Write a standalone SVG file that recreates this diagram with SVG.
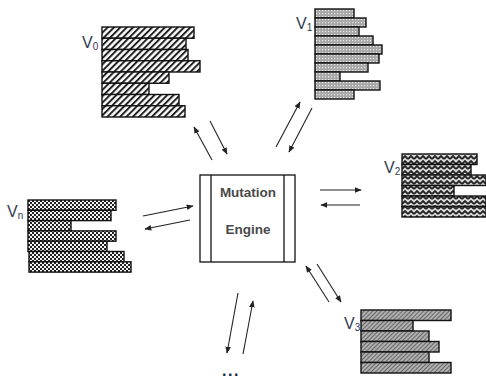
<svg xmlns="http://www.w3.org/2000/svg" width="486" height="378" viewBox="0 0 486 378">
<style>
.bar{stroke:#111;stroke-width:1.4}
.lbl{font-family:"Liberation Sans",Arial,sans-serif;font-size:16px;fill:#2f3a4f}
.sub{font-size:10px}
.eng{font-family:"Liberation Sans",Arial,sans-serif;font-size:13.5px;font-weight:bold;fill:#4a4a4a;text-anchor:middle}
.arr{stroke:#222;stroke-width:1.1;fill:none;marker-end:url(#ah)}
</style>
<defs>
<marker id="ah" viewBox="0 0 10 10" refX="9" refY="5" markerWidth="7" markerHeight="7" markerUnits="userSpaceOnUse" orient="auto">
<path d="M0,1 L10,5 L0,9 Z" fill="#222"/>
</marker>
<pattern id="hatch" patternUnits="userSpaceOnUse" width="4.5" height="4.5" patternTransform="rotate(45)">
<rect width="4.5" height="4.5" fill="#fff"/>
<rect width="2" height="4.5" fill="#222"/>
</pattern>
<pattern id="dots" patternUnits="userSpaceOnUse" width="3" height="3">
<rect width="3" height="3" fill="#a8a8a8"/>
<rect x="1" y="1" width="1.2" height="1.2" fill="#e8e8e8"/>
</pattern>
<pattern id="zig" patternUnits="userSpaceOnUse" width="6" height="5">
<rect width="6" height="5" fill="#d8d8d8"/>
<polyline points="0,4 3,1 6,4" stroke="#222" stroke-width="1.8" fill="none"/>
</pattern>
<pattern id="check" patternUnits="userSpaceOnUse" width="4" height="4">
<rect width="4" height="4" fill="#f4f4f4"/>
<rect width="2" height="2" fill="#222"/>
<rect x="2" y="2" width="2" height="2" fill="#222"/>
</pattern>
<pattern id="ghatch" patternUnits="userSpaceOnUse" width="3" height="3" patternTransform="rotate(45)">
<rect width="3" height="3" fill="#b0b0b0"/>
<rect width="1" height="3" fill="#666"/>
</pattern>
</defs>

<g id="engine">
<rect x="200" y="175" width="95" height="87" fill="#fff" stroke="#111" stroke-width="1.3"/>
<line x1="211" y1="175" x2="211" y2="262" stroke="#111" stroke-width="1.3"/>
<line x1="284" y1="175" x2="284" y2="262" stroke="#111" stroke-width="1.3"/>
<text class="eng" x="248" y="197">Mutation</text>
<text class="eng" x="248" y="234">Engine</text>
</g>

<g id="v0" fill="url(#hatch)">
<rect class="bar" x="102" y="27" width="92" height="11.25"/>
<rect class="bar" x="102" y="38.25" width="84" height="11.25"/>
<rect class="bar" x="102" y="49.5" width="86" height="11.25"/>
<rect class="bar" x="102" y="60.75" width="98" height="11.25"/>
<rect class="bar" x="102" y="72" width="67" height="11.25"/>
<rect class="bar" x="102" y="83.25" width="47" height="11.25"/>
<rect class="bar" x="102" y="94.5" width="77" height="11.25"/>
<rect class="bar" x="102" y="105.75" width="83" height="11.25"/>
<text class="lbl" x="82" y="48">V<tspan class="sub" dy="2" fill="#4a2a5a">0</tspan></text>
</g>

<g id="v1" fill="url(#dots)">
<rect class="bar" x="315" y="9" width="39" height="9"/>
<rect class="bar" x="315" y="18" width="51" height="9"/>
<rect class="bar" x="315" y="27" width="44" height="9"/>
<rect class="bar" x="315" y="36" width="58" height="9"/>
<rect class="bar" x="315" y="45" width="67" height="9"/>
<rect class="bar" x="315" y="54" width="64" height="9"/>
<rect class="bar" x="315" y="63" width="53" height="9"/>
<rect class="bar" x="315" y="72" width="25" height="9"/>
<rect class="bar" x="315" y="81" width="65" height="9"/>
<rect class="bar" x="315" y="90" width="39" height="9"/>
<text class="lbl" x="296" y="29">V<tspan class="sub" dy="2">1</tspan></text>
</g>

<g id="v2" fill="url(#zig)">
<rect class="bar" x="402" y="154" width="75" height="10.5"/>
<rect class="bar" x="402" y="164.5" width="69" height="10.5"/>
<rect class="bar" x="402" y="175" width="84" height="10.5"/>
<rect class="bar" x="402" y="185.5" width="52" height="10.5"/>
<rect class="bar" x="402" y="196" width="84" height="10.5"/>
<rect class="bar" x="402" y="206.5" width="84" height="10.5"/>
<text class="lbl" x="384" y="173">V<tspan class="sub" dy="2">2</tspan></text>
</g>

<g id="vn" fill="url(#check)">
<rect class="bar" x="28" y="200" width="88" height="10.3"/>
<rect class="bar" x="28" y="210.3" width="83" height="10.3"/>
<rect class="bar" x="28" y="220.6" width="43" height="10.3"/>
<rect class="bar" x="28" y="230.9" width="88" height="10.3"/>
<rect class="bar" x="28" y="241.2" width="79" height="10.3"/>
<rect class="bar" x="29" y="251.5" width="95" height="10.3"/>
<rect class="bar" x="29" y="261.8" width="102" height="10.3"/>
<text class="lbl" x="7" y="217">V<tspan class="sub" dy="2">n</tspan></text>
</g>

<g id="v3" fill="url(#ghatch)">
<rect class="bar" x="361" y="310" width="90" height="10.5"/>
<rect class="bar" x="361" y="320.5" width="52" height="10.5"/>
<rect class="bar" x="361" y="331" width="68" height="10.5"/>
<rect class="bar" x="361" y="341.5" width="78" height="10.5"/>
<rect class="bar" x="361" y="352" width="68" height="10.5"/>
<rect class="bar" x="361" y="362.5" width="90" height="10.5"/>
<text class="lbl" x="344" y="329">V<tspan class="sub" dy="2">3</tspan></text>
</g>

<g id="connectors">
<line class="arr" x1="212" y1="160" x2="194" y2="127"/>
<line class="arr" x1="210" y1="121" x2="227" y2="154"/>
<line class="arr" x1="276" y1="147" x2="300" y2="102"/>
<line class="arr" x1="312" y1="108" x2="289" y2="152"/>
<line class="arr" x1="320" y1="190" x2="361" y2="190"/>
<line class="arr" x1="360" y1="205" x2="321" y2="205"/>
<line class="arr" x1="143" y1="216" x2="193" y2="206"/>
<line class="arr" x1="190" y1="220" x2="145" y2="229"/>
<line class="arr" x1="317" y1="264" x2="341" y2="302"/>
<line class="arr" x1="329" y1="302" x2="306" y2="266"/>
<line class="arr" x1="238" y1="293" x2="227" y2="353"/>
<line class="arr" x1="243" y1="354" x2="253" y2="301"/>
</g>

<g id="ellipsis">
<text x="231" y="376" font-family="Liberation Sans,Arial,sans-serif" font-size="16" font-weight="bold" letter-spacing="1.5" fill="#1a2540" text-anchor="middle">...</text>
</g>
</svg>
